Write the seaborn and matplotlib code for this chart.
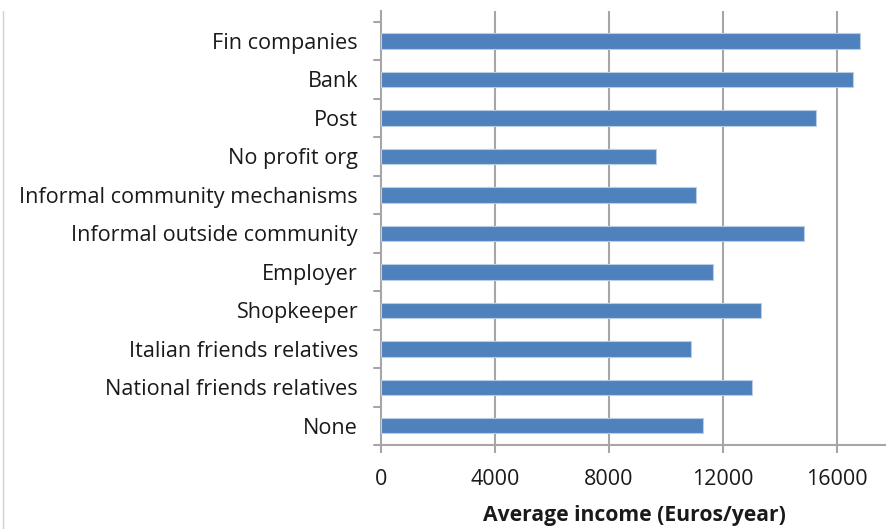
import matplotlib
matplotlib.use("Agg")
import matplotlib.pyplot as plt
import seaborn as sns
import pandas as pd
from matplotlib.lines import Line2D

# Average income by source of credit used
categories = [
    "Fin companies",
    "Bank",
    "Post",
    "No profit org",
    "Informal community mechanisms",
    "Informal outside community",
    "Employer",
    "Shopkeeper",
    "Italian friends relatives",
    "National friends relatives",
    "None",
]
income = [16820, 16540, 15260, 9650, 11050, 14840, 11640, 13320, 10890, 13030, 11300]
x_ticks = [0, 4000, 8000, 12000, 16000]
x_label = "Average income (Euros/year)"

df = pd.DataFrame({"source": categories, "income": income})

sns.set_style("white")
plt.rcParams["font.family"] = ["Open Sans", "DejaVu Sans"]

W, H = 887, 529
fig = plt.figure(figsize=(W / 100, H / 100), dpi=100)
ax = fig.add_axes([381 / W, (H - 445) / H, (W - 381) / W, (445 - 11) / H])

bar_color = "#4F81BD"
sns.barplot(data=df, x="income", y="source", orient="h", color=bar_color,
            width=0.40, saturation=1, ax=ax, zorder=3)
for p in ax.patches:
    p.set_edgecolor("#B9CDE5")
    p.set_linewidth(0.8)

grid_c = "#A6A6A6"
txt_c = "#1a1a1a"
ax.set_xlim(0, 17750)
ax.set_ylim(len(categories) - 0.5, -0.5 - 0.28)
ax.set_xticks(x_ticks)
ax.set_xticklabels([str(v) for v in x_ticks], fontsize=15.5, color=txt_c)
for v in x_ticks[1:]:
    ax.axvline(v, color=grid_c, lw=1.5, zorder=1)

# category labels centred on bars, tick marks on category boundaries
ax.set_yticks(range(len(categories)))
ax.set_yticklabels(categories, fontsize=15.6, color=txt_c)
ax.tick_params(axis="y", length=0, pad=16.5)
for b in [i - 0.5 for i in range(len(categories) + 1)]:
    ax.plot([-250, 0], [b, b], color=grid_c, lw=1.5, clip_on=False, zorder=2)

ax.tick_params(axis="x", length=6, width=1.5, color=grid_c, direction="out",
               pad=11, bottom=True)
ax.set_xlabel(x_label, fontsize=15.2, fontweight="bold", labelpad=11, color=txt_c)
ax.set_ylabel("")

for side in ["top", "right"]:
    ax.spines[side].set_visible(False)
for side in ["left", "bottom"]:
    ax.spines[side].set_color(grid_c)
    ax.spines[side].set_linewidth(1.5)

# chart area border on the left edge
fig.add_artist(Line2D([3.5 / W, 3.5 / W], [0, (H - 11) / H],
                      transform=fig.transFigure, color="#D0D0D0", lw=1))

fig.savefig("out.png", dpi=100)
